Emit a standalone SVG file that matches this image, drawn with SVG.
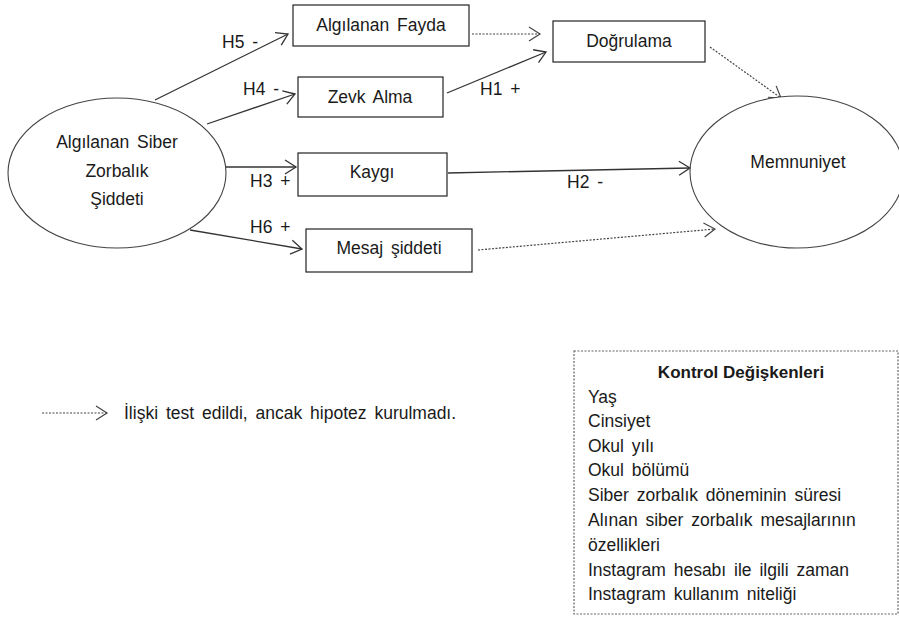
<svg xmlns="http://www.w3.org/2000/svg" width="899" height="621" viewBox="0 0 899 621">
<defs>
<marker id="arr" markerUnits="userSpaceOnUse" markerWidth="14" markerHeight="16" refX="12" refY="8" orient="auto" viewBox="0 0 14 16">
<path d="M1,1 L12,8 L1,15" fill="none" stroke="#333" stroke-width="1.3"/>
</marker>
<marker id="arrd" markerUnits="userSpaceOnUse" markerWidth="14" markerHeight="16" refX="12" refY="8" orient="auto" viewBox="0 0 14 16">
<path d="M1,1 L12,8 L1,15" fill="none" stroke="#444" stroke-width="1.2"/>
</marker>
</defs>
<style>
text{font-family:"Liberation Sans",Arial,sans-serif;font-size:17.5px;word-spacing:3px;fill:#1a1a1a}
.c{text-anchor:middle}
.box{fill:#fff;stroke:#222;stroke-width:1.2}
.ell{fill:#fff;stroke:#444;stroke-width:1.1}
.s{stroke:#333;stroke-width:1.3;fill:none;marker-end:url(#arr)}
.d{stroke:#444;stroke-width:1.2;stroke-dasharray:2 1.5;fill:none;marker-end:url(#arrd)}
.b{font-weight:bold;font-size:17px;word-spacing:0}
</style>
<rect width="899" height="621" fill="#fff"/>
<g id="connectors">
<line class="s" x1="155" y1="100" x2="288" y2="34"/>
<line class="s" x1="207" y1="124" x2="295" y2="94"/>
<line class="s" x1="226" y1="167" x2="296" y2="167"/>
<line class="s" x1="190" y1="230" x2="302" y2="249"/>
<line class="d" x1="472" y1="34" x2="540" y2="34"/>
<line class="s" x1="447" y1="93" x2="546" y2="52"/>
<line class="d" x1="710" y1="47" x2="781" y2="98"/>
<line class="s" x1="448" y1="173" x2="690" y2="168"/>
<line class="d" x1="478" y1="250" x2="715" y2="229"/>
<text x="222" y="48">H5 -</text>
<text x="243" y="95">H4 -</text>
<text x="250" y="187">H3 +</text>
<text x="250" y="233">H6 +</text>
<text x="480" y="95">H1 +</text>
<text x="567" y="188">H2 -</text>
</g>
<g id="n-siddet">
<ellipse class="ell" cx="117" cy="173" rx="109" ry="75"/>
<text class="c" x="117" y="148">Algılanan Siber</text>
<text class="c" x="117" y="177">Zorbalık</text>
<text class="c" x="117" y="205">Şiddeti</text>
</g>
<g id="n-fayda">
<rect class="box" x="293" y="5" width="176" height="41"/>
<text class="c" x="381" y="31">Algılanan Fayda</text>
</g>
<g id="n-zevk">
<rect class="box" x="298" y="77" width="145" height="40"/>
<text class="c" x="370" y="103">Zevk Alma</text>
</g>
<g id="n-kaygi">
<rect class="box" x="298" y="153" width="149" height="43"/>
<text class="c" x="372" y="178">Kaygı</text>
</g>
<g id="n-mesaj">
<rect class="box" x="306" y="229" width="166" height="43"/>
<text class="c" x="389" y="254">Mesaj şiddeti</text>
</g>
<g id="n-dogrulama">
<rect class="box" x="553" y="21" width="152" height="41"/>
<text class="c" x="629" y="47">Doğrulama</text>
</g>
<g id="n-memnuniyet">
<ellipse class="ell" cx="797" cy="172" rx="107" ry="76"/>
<text class="c" x="798" y="168">Memnuniyet</text>
</g>
<g id="legend">
<line class="d" x1="42" y1="413" x2="107" y2="413"/>
<text x="124" y="419">İlişki test edildi, ancak hipotez kurulmadı.</text>
</g>
<g id="controls">
<rect x="574" y="351" width="324" height="263" fill="#fff" stroke="#666" stroke-width="1.2" stroke-dasharray="2 1.5"/>
<text class="c b" x="741" y="378">Kontrol Değişkenleri</text>
<text x="588" y="403">Yaş</text>
<text x="588" y="427">Cinsiyet</text>
<text x="588" y="452">Okul yılı</text>
<text x="588" y="476">Okul bölümü</text>
<text x="588" y="501">Siber zorbalık döneminin  süresi</text>
<text x="588" y="526">Alınan siber zorbalık mesajlarının</text>
<text x="588" y="551">özellikleri</text>
<text x="588" y="576">Instagram hesabı ile ilgili zaman</text>
<text x="588" y="600">Instagram kullanım  niteliği</text>
</g>
</svg>
